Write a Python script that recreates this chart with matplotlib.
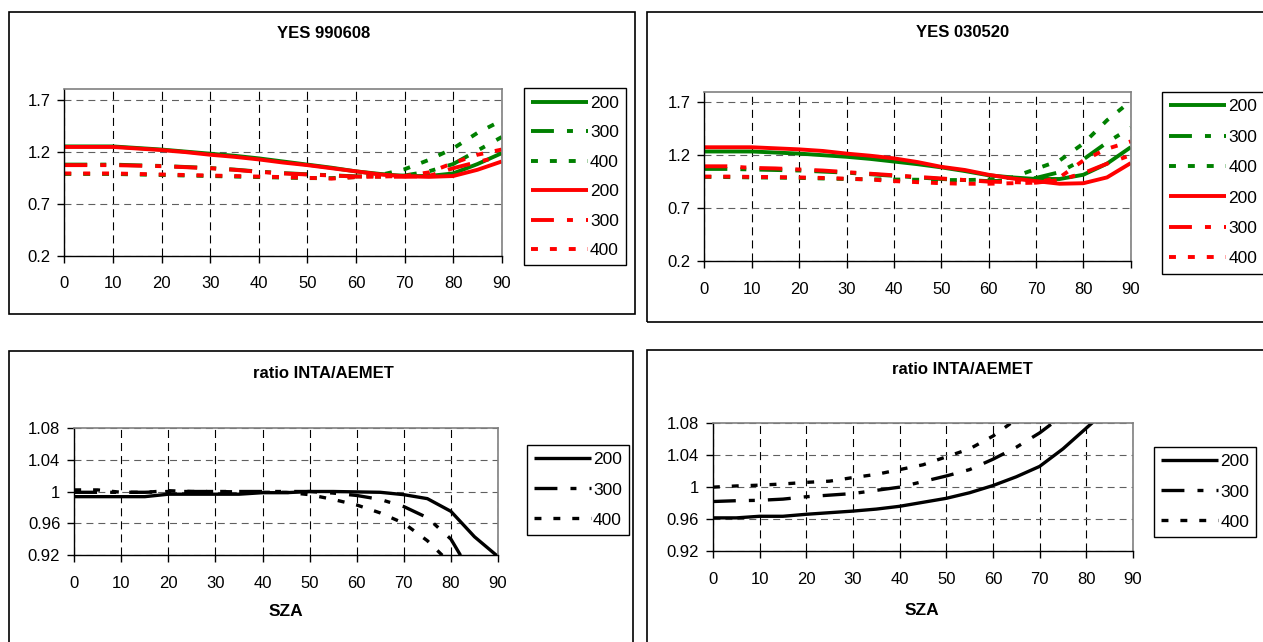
import matplotlib
matplotlib.use("Agg")
import matplotlib.pyplot as plt
from matplotlib.patches import Rectangle

plt.rcParams['font.family'] = ['Liberation Sans', 'DejaVu Sans']
plt.rcParams['lines.scale_dashes'] = False

# ---------------------------------------------------------------- data
sza = [0, 5, 10, 15, 20, 25, 30, 35, 40, 45, 50, 55, 60, 65, 70, 75, 80, 85, 90]
legend_labels = ['200', '300', '400']

# YES 990608 (green / red series for 200, 300, 400)
yes990608_green = {
    '200': [1.25, 1.25, 1.25, 1.235, 1.22, 1.20, 1.18, 1.16, 1.135, 1.105, 1.075,
            1.045, 1.01, 0.985, 0.965, 0.965, 0.99, 1.08, 1.185],
    '300': [1.075, 1.075, 1.075, 1.068, 1.062, 1.052, 1.042, 1.027, 1.008, 0.993,
            0.982, 0.972, 0.962, 0.96, 0.97, 1.01, 1.08, 1.21, 1.34],
    '400': [0.985, 0.985, 0.985, 0.98, 0.975, 0.97, 0.965, 0.96, 0.955, 0.95,
            0.945, 0.945, 0.955, 0.975, 1.03, 1.12, 1.23, 1.38, 1.50],
}
yes990608_red = {
    '200': [1.245, 1.245, 1.245, 1.23, 1.215, 1.195, 1.17, 1.15, 1.125, 1.095,
            1.07, 1.04, 1.01, 0.98, 0.963, 0.957, 0.965, 1.025, 1.105],
    '300': [1.07, 1.07, 1.07, 1.065, 1.06, 1.05, 1.04, 1.025, 1.005, 0.99, 0.98,
            0.97, 0.96, 0.958, 0.958, 0.965, 1.04, 1.10, 1.155],
    '400': [0.99, 0.99, 0.99, 0.985, 0.98, 0.975, 0.97, 0.965, 0.96, 0.955, 0.948,
            0.94, 0.955, 0.96, 0.965, 1.0, 1.09, 1.17, 1.22],
}

# YES 030520
yes030520_green = {
    '200': [1.235, 1.235, 1.235, 1.225, 1.215, 1.20, 1.185, 1.165, 1.14, 1.115,
            1.085, 1.05, 1.01, 0.99, 0.975, 0.975, 1.015, 1.12, 1.275],
    '300': [1.07, 1.07, 1.065, 1.06, 1.055, 1.045, 1.035, 1.02, 1.005, 0.99, 0.975,
            0.965, 0.955, 0.96, 0.985, 1.04, 1.16, 1.32, 1.46],
    '400': [0.995, 0.993, 0.99, 0.988, 0.985, 0.98, 0.975, 0.972, 0.97, 0.968,
            0.965, 0.965, 0.97, 0.99, 1.07, 1.15, 1.31, 1.53, 1.71],
}
yes030520_red = {
    '200': [1.275, 1.275, 1.275, 1.265, 1.255, 1.24, 1.215, 1.195, 1.17, 1.135,
            1.09, 1.06, 1.015, 0.98, 0.955, 0.93, 0.935, 0.99, 1.125],
    '300': [1.095, 1.095, 1.08, 1.075, 1.065, 1.055, 1.04, 1.025, 1.01, 0.995,
            0.98, 0.965, 0.95, 0.945, 0.94, 0.965, 1.03, 1.12, 1.20],
    '400': [0.998, 0.998, 0.995, 0.993, 0.99, 0.985, 0.978, 0.97, 0.955, 0.945,
            0.935, 0.93, 0.93, 0.935, 0.94, 0.99, 1.15, 1.26, 1.33],
}

# ratio INTA/AEMET, left and right
ratio_left = {
    '200': [0.9935, 0.9935, 0.9935, 0.9935, 0.9966, 0.9966, 0.9966, 0.9966,
            0.9985, 0.9985, 1.0, 1.0, 0.9995, 0.999, 0.996, 0.991, 0.975, 0.943, 0.918],
    '300': [0.999, 0.999, 0.999, 0.999, 1.0, 1.0, 1.0, 1.0, 1.0, 1.0, 1.0, 0.998,
            0.995, 0.99, 0.981, 0.967, 0.94, 0.89, 0.86],
    '400': [1.002, 1.002, 0.999, 0.999, 1.001, 1.0, 1.0, 0.9995, 0.999, 0.999,
            0.996, 0.99, 0.983, 0.973, 0.96, 0.938, 0.909, 0.88, 0.85],
}
ratio_right = {
    '200': [0.9615, 0.9615, 0.9635, 0.9635, 0.966, 0.968, 0.97, 0.9725, 0.976,
            0.981, 0.986, 0.993, 1.002, 1.013, 1.026, 1.048, 1.074, 1.10, 1.13],
    '300': [0.982, 0.983, 0.9835, 0.985, 0.988, 0.99, 0.992, 0.996, 1.0, 1.007,
            1.014, 1.022, 1.035, 1.05, 1.068, 1.09, 1.12, 1.15, 1.18],
    '400': [1.0, 1.0015, 1.0025, 1.004, 1.006, 1.0075, 1.012, 1.016, 1.022, 1.028,
            1.038, 1.048, 1.064, 1.085, 1.10, 1.12, 1.14, 1.16, 1.18],
}

xticks = [0, 10, 20, 30, 40, 50, 60, 70, 80, 90]
yticks_yes = [0.2, 0.7, 1.2, 1.7]
yticklabels_yes = ['0.2', '0.7', '1.2', '1.7']
yticks_ratio = [0.92, 0.96, 1.0, 1.04, 1.08]
yticklabels_ratio = ['0.92', '0.96', '1', '1.04', '1.08']

# ---------------------------------------------------------------- styles
GREEN = '#008000'
RED = '#FF0000'
styles = {
    '200': '-',
    '300': (0, (16.5, 9.4, 4.3, 9.4)),
    '400': (0, (5.0, 8.6)),
}
TICK_FS = 12
LEG_FS = 12.5
TITLE_FS = 12

W, H = 1263, 642
fig = plt.figure(figsize=(W / 100, H / 100), dpi=100)


def fig_rect(x0, y0, x1, y1):
    """pixel box (top-left origin) -> figure fraction rect"""
    return [x0 / W, 1 - y1 / H, (x1 - x0) / W, (y1 - y0) / H]


def panel(frame, axbox, legpos, title, title_xy, series, ylim, yticks, yticklabels,
          xlabel_xy=None, pitch=29.3, lw=2.8):
    # chart-area frame
    fx0, fy0, fx1, fy1 = frame
    fig.patches.append(Rectangle((fx0 / W, 1 - fy1 / H), (fx1 - fx0) / W,
                                 (fy1 - fy0) / H, transform=fig.transFigure,
                                 fill=False, edgecolor='black', lw=1.2, zorder=0))
    ax = fig.add_axes(fig_rect(*axbox))
    handles = []
    for color, data in series:
        for key in legend_labels:
            ln, = ax.plot(sza, data[key], color=color, lw=lw, linestyle=styles[key],
                          solid_capstyle='butt', dash_capstyle='butt', label=key)
            handles.append(ln)
    ax.set_xlim(0, 90)
    ax.set_ylim(*ylim)
    ax.set_xticks(xticks)
    ax.set_xticklabels([str(t) for t in xticks])
    ax.set_yticks(yticks)
    ax.set_yticklabels(yticklabels)
    ax.tick_params(axis='x', direction='out', length=5, width=1, pad=10,
                   labelsize=TICK_FS, color='black')
    ax.tick_params(axis='y', direction='out', length=5, width=1, pad=5,
                   labelsize=TICK_FS, color='black')
    ax.set_axisbelow(True)
    ax.xaxis.grid(True, color='black', lw=0.8, linestyle=(0, (5.8, 3.6)))
    ax.yaxis.grid(True, color='#606060', lw=0.8, linestyle=(0, (5.0, 3.6)))
    for s in ('top', 'right'):
        ax.spines[s].set_color('#808080')
        ax.spines[s].set_linewidth(1.2)
    for s in ('left', 'bottom'):
        ax.spines[s].set_color('black')
        ax.spines[s].set_linewidth(1.0)
    fig.text(title_xy[0] / W, 1 - title_xy[1] / H, title, ha='center', va='center',
             fontsize=TITLE_FS, fontweight='bold')
    if xlabel_xy is not None:
        fig.text(xlabel_xy[0] / W, 1 - xlabel_xy[1] / H, 'SZA', ha='center',
                 va='center', fontsize=12.5, fontweight='bold')
    # legend
    fs_px = LEG_FS * 100 / 72
    leg = ax.legend(handles, [h.get_label() for h in handles], loc='upper left',
                    bbox_to_anchor=(legpos[0] / W, 1 - legpos[1] / H),
                    bbox_transform=fig.transFigure, borderaxespad=0,
                    frameon=True, fancybox=False, edgecolor='black',
                    framealpha=1, fontsize=LEG_FS, handlelength=57 / fs_px,
                    handletextpad=2 / fs_px, borderpad=0.42,
                    labelspacing=(pitch - 0.95 * fs_px) / fs_px)
    leg.get_frame().set_linewidth(1.0)
    return ax


panel((8.7, 11.7, 635, 314.3), (64.3, 89.3, 501.7, 255.5), (523.7, 88.3),
      'YES 990608', (324, 33),
      [(GREEN, yes990608_green), (RED, yes990608_red)],
      (0.2, 1.8), yticks_yes, yticklabels_yes, pitch=30.8)

panel((647, 11.7, 1280, 322), (704.4, 91.7, 1130.7, 261), (1162, 91.7),
      'YES 030520', (962.6, 32.7),
      [(GREEN, yes030520_green), (RED, yes030520_red)],
      (0.2, 1.8), yticks_yes, yticklabels_yes, pitch=31.8)

panel((9, 351, 633.3, 660), (74.2, 428, 498, 555), (526.7, 445),
      'ratio INTA/AEMET', (323.8, 373.3),
      [('black', ratio_left)],
      (0.92, 1.08), yticks_ratio, yticklabels_ratio, xlabel_xy=(286, 612),
      pitch=31.4, lw=2.4)

panel((647, 350, 1280, 660), (712.9, 423.3, 1133, 551), (1154, 447),
      'ratio INTA/AEMET', (962.7, 370),
      [('black', ratio_right)],
      (0.92, 1.08), yticks_ratio, yticklabels_ratio, xlabel_xy=(922, 610.7),
      pitch=31.4, lw=2.4)

fig.savefig('out.png', dpi=100)
